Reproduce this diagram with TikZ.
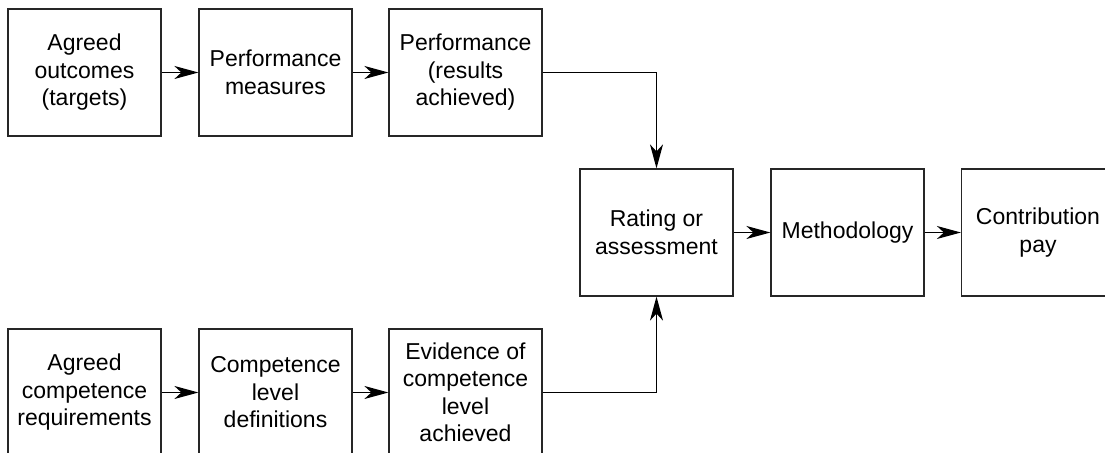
\documentclass[tikz,border=0pt]{standalone}
\usepackage{fontspec}
\setmainfont{Liberation Sans}
\usepackage{tikz}
\usetikzlibrary{arrows.meta}
\tikzset{>={Stealth[length=12pt,width=6.5pt,inset=3.5pt]}}
\tikzset{
  stage/.style={ font=\fontsize{11.5}{13.75}\selectfont, rectangle, draw=black!85, line width=0.6pt,
                 align=center, inner sep=0pt, minimum width=76.5pt, minimum height=63.5pt },
  link/.style={->, draw=black, line width=0.6pt}
}

\begin{document}
\begin{tikzpicture}[x=0.5pt,y=-0.5pt]
        \useasboundingbox (0,0) rectangle (1105,453);
        % top row
        \node[stage] (AO) at (84.5, 72.5) {Agreed\\outcomes\\(targets)};
        \node[stage] (PM) at (275.5, 72.5) {Performance\\measures};
        \node[stage] (PR) at (465.5, 72.5) {Performance\\(results\\achieved)};
        % middle row
        \node[stage] (RA) at (656.5, 232.5) {Rating or\\assessment};
        \node[stage] (ME) at (847.5, 232.5) {Methodology};
        \node[stage] (CP) at (1038, 232.5) {Contribution\\pay};
        % bottom row
        \node[stage] (AC) at (84.5, 392.5) {Agreed\\competence\\requirements};
        \node[stage] (CL) at (275.5, 392.5) {Competence\\level\\definitions};
        \node[stage] (EC) at (465.5, 392.5) {Evidence of\\competence\\level\\achieved};
        \draw[link] (AO) -- (PM);
        \draw[link] (PM) -- (PR);
        \draw[link] (PR) -| (RA);
        \draw[link] (AC) -- (CL);
        \draw[link] (CL) -- (EC);
        \draw[link] (EC) -| (RA);
        \draw[link] (RA) -- (ME);
        \draw[link] (ME) -- (CP);
      \end{tikzpicture}
\end{document}
